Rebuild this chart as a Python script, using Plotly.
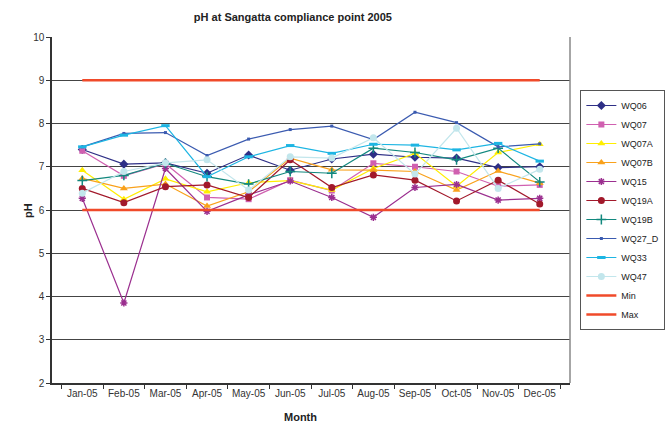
import plotly.graph_objects as go

months = ["Jan-05", "Feb-05", "Mar-05", "Apr-05", "May-05", "Jun-05",
          "Jul-05", "Aug-05", "Sep-05", "Oct-05", "Nov-05", "Dec-05"]

wq06 = [7.40, 7.06, 7.09, 6.85, 7.27, 6.92, 7.18, 7.29, 7.22, 7.20, 6.98, 7.00]
wq07 = [7.37, 6.79, 7.07, 6.29, 6.25, 6.69, 6.45, 7.08, 7.00, 6.89, 6.55, 6.58]
wq07a = [6.92, 6.25, 6.72, 6.42, 6.63, 6.68, 6.46, 6.96, 7.31, 6.55, 7.33, 7.52]
wq07b = [6.73, 6.50, 6.60, 6.09, 6.42, 7.20, 6.93, 6.92, 6.89, 6.46, 6.90, 6.62]
wq15 = [6.27, 3.85, 6.96, 5.97, 6.35, 6.67, 6.29, 5.83, 6.52, 6.59, 6.23, 6.27]
wq19a = [6.50, 6.17, 6.54, 6.58, 6.29, 7.16, 6.52, 6.81, 6.69, 6.21, 6.69, 6.14]
wq19b = [6.68, 6.80, 7.08, 6.77, 6.60, 6.89, 6.85, 7.43, 7.33, 7.16, 7.43, 6.65]
wq27_d = [7.46, 7.77, 7.79, 7.26, 7.64, 7.86, 7.94, 7.63, 8.26, 8.02, 7.46, 7.53]
wq33 = [7.46, 7.73, 7.95, 6.77, 7.23, 7.49, 7.31, 7.52, 7.50, 7.39, 7.54, 7.13]
wq47 = [6.39, 6.89, 7.09, 7.16, 6.46, 7.23, 7.20, 7.67, 6.83, 7.89, 6.50, 6.94]
ph_min = [6] * 12
ph_max = [9] * 12

y_ticks = [2, 3, 4, 5, 6, 7, 8, 9, 10]

series = [
    ("WQ06", wq06, "#2E2F86", "diamond", 7, 1),
    ("WQ07", wq07, "#D060B0", "square", 6, 1),
    ("WQ07A", wq07a, "#FFEE00", "triangle-up", 7, 1),
    ("WQ07B", wq07b, "#F9A11B", "triangle-up", 7, 1),
    ("WQ15", wq15, "#9B2F8F", "asterisk-open", 6, 1.5),
    ("WQ19A", wq19a, "#A2192B", "circle", 7, 1),
    ("WQ19B", wq19b, "#12887E", "cross-thin-open", 7, 1.5),
    ("WQ27_D", wq27_d, "#3B5BB0", "square", 3, 1),
    ("WQ33", wq33, "#1DB5E3", "line-ew-open", 6, 3),
    ("WQ47", wq47, "#C2E6EC", "circle", 7, 1),
]

fig = go.Figure()
for name, vals, color, sym, size, lw in series:
    mk = dict(symbol=sym, size=size, color=color)
    if sym.endswith("-open"):
        mk["line"] = dict(color=color, width=lw)
    fig.add_trace(go.Scatter(x=months, y=vals, name=name, mode="lines+markers",
                             line=dict(color=color, width=1.2), marker=mk))

fig.add_trace(go.Scatter(x=months, y=ph_min, name="Min", mode="lines",
                         line=dict(color="#F04A2A", width=2.5)))
fig.add_trace(go.Scatter(x=months, y=ph_max, name="Max", mode="lines",
                         line=dict(color="#F04A2A", width=2.5)))

font_fam = "Liberation Sans Narrow, Arial Narrow, Liberation Sans, Arial, sans-serif"

fig.update_layout(
    width=669, height=426,
    margin=dict(l=52, r=99, t=37, b=43, autoexpand=False),
    paper_bgcolor="white", plot_bgcolor="white",
    font=dict(family=font_fam, size=9, color="#333333"),
    title=dict(text="<b>pH at Sangatta compliance point 2005</b>", x=0.465, xref="paper",
               y=0.96, yanchor="middle", font=dict(size=11, color="#222222")),
    showlegend=True,
    legend=dict(x=1.02, y=0.5, xanchor="left", yanchor="middle",
                bordercolor="#555555", borderwidth=1, bgcolor="white",
                font=dict(size=9, color="#222222"), tracegroupgap=0,
                itemwidth=30),
    xaxis=dict(type="category", showgrid=False, ticks="outside", tickson="boundaries",
               ticklen=4, tickcolor="#333333", showline=True, linecolor="#333333",
               linewidth=1.5, mirror=False, tickangle=0, automargin=False,
               tickfont=dict(size=10)),
    yaxis=dict(range=[2, 10], tickvals=y_ticks, showgrid=True, gridcolor="#444444",
               gridwidth=1, ticks="outside", ticklen=4, tickcolor="#333333",
               showline=True, linecolor="#333333", linewidth=1.5, zeroline=False,
               automargin=False, tickfont=dict(size=10)),
    shapes=[dict(type="line", xref="paper", yref="paper", x0=1, x1=1, y0=0, y1=1,
                 line=dict(color="#888888", width=1.5))],
    annotations=[
        dict(text="<b>Month</b>", xref="paper", yref="paper", x=0.48, y=-0.098,
             yanchor="middle", showarrow=False, font=dict(size=11, color="#222222")),
        dict(text="<b>pH</b>", xref="paper", yref="paper", x=-0.062, y=0.5,
             textangle=-90, showarrow=False, font=dict(size=11, color="#222222")),
    ],
)

fig.write_html("out.html", config={"displayModeBar": False},
               post_script="document.body.style.margin='0';")
